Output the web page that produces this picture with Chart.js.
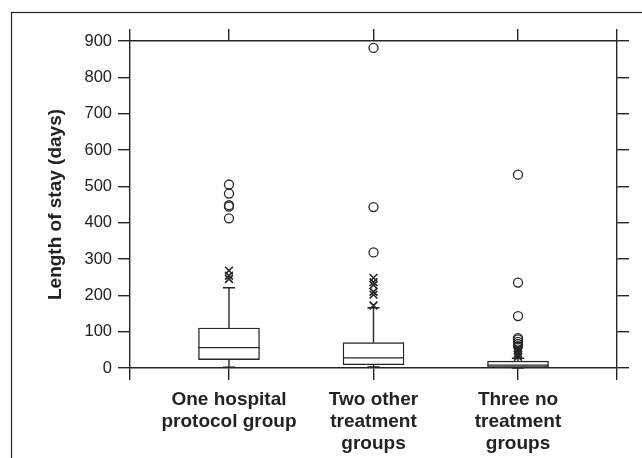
<!DOCTYPE html>
<html>
<head>
<meta charset="utf-8">
<script src="https://cdn.jsdelivr.net/npm/chart.js@4.4.1/dist/chart.umd.min.js"></script>
<style>
  html, body { margin: 0; padding: 0; background: #fff; }
</style>
</head>
<body>
<canvas id="miGrafica" width="642" height="458"></canvas>
<script>
// Datos
const categories = [
    ['One hospital', 'protocol group'],
    ['Two other', 'treatment', 'groups'],
    ['Three no', 'treatment', 'groups']
];
const positions = [1, 2, 3];
const whiskerLow = [2, 3, 0];
const q1 = [23, 9, 2];
const medians = [56, 28, 8];
const q3 = [110, 70, 19];
const whiskerHigh = [221, 166, 27];
// outliers (x) y extremos (o)
const outliersX = [
    [245, 254, 268],
    [172, 202, 210, 228, 236, 248],
    [31, 36, 41, 46, 50, 55]
];
const outliersO = [
    [412, 444, 448, 480, 505],
    [318, 443, 881],
    [60, 66, 72, 79, 82, 143, 235, 532]
];
const yTicks = [0, 100, 200, 300, 400, 500, 600, 700, 800, 900];

const ink = '#262626';
const xMin = 0.315, xMax = 3.685;

function puntos(grupos) {
    const res = [];
    grupos.forEach((vals, i) => vals.forEach(v => res.push({ x: positions[i], y: v })));
    return res;
}

function ticksX(scale) {
    scale.ticks = [xMin].concat(positions, [xMax]).map(v => ({ value: v }));
}

// Marco exterior
const marco = {
    id: 'marco',
    beforeDraw(chart) {
        const ctx = chart.ctx;
        ctx.save();
        ctx.strokeStyle = ink;
        ctx.lineWidth = 1.2;
        ctx.strokeRect(11.5, 12.5, 700, 500);
        ctx.restore();
    }
};

// Mediana, bigotes y topes
const bigotes = {
    id: 'bigotes',
    afterDatasetsDraw(chart) {
        const ctx = chart.ctx;
        const y = chart.scales.y;
        const meta = chart.getDatasetMeta(0);
        ctx.save();
        ctx.strokeStyle = ink;
        ctx.lineWidth = 1.4;
        meta.data.forEach((el, i) => {
            const half = el.width / 2;
            const cap = el.width * 0.1;
            const ym = y.getPixelForValue(medians[i]);
            ctx.beginPath();
            ctx.moveTo(el.x - half, ym);
            ctx.lineTo(el.x + half, ym);
            // bigote superior
            ctx.moveTo(el.x, y.getPixelForValue(q3[i]));
            ctx.lineTo(el.x, y.getPixelForValue(whiskerHigh[i]));
            ctx.moveTo(el.x - cap, y.getPixelForValue(whiskerHigh[i]));
            ctx.lineTo(el.x + cap, y.getPixelForValue(whiskerHigh[i]));
            // bigote inferior
            ctx.moveTo(el.x, y.getPixelForValue(q1[i]));
            ctx.lineTo(el.x, y.getPixelForValue(whiskerLow[i]));
            ctx.moveTo(el.x - cap, y.getPixelForValue(whiskerLow[i]));
            ctx.lineTo(el.x + cap, y.getPixelForValue(whiskerLow[i]));
            ctx.stroke();
        });
        ctx.restore();
    }
};

const gridOpts = {
    display: true,
    offset: false,
    drawOnChartArea: false,
    drawTicks: true,
    tickLength: 12,
    color: ink,
    lineWidth: 1.4
};
const borderOpts = { display: true, color: ink, width: 1.4 };
const tickFont = { family: "'Liberation Sans', Arial, sans-serif", size: 16.5 };
const boldFont = { family: "'Liberation Sans', Arial, sans-serif", size: 19, weight: 'bold', lineHeight: 1.15 };

Chart.defaults.color = '#222';

new Chart(document.getElementById('miGrafica').getContext('2d'), {
    type: 'bar',
    data: {
        datasets: [
            {
                label: 'Caja',
                data: positions.map((p, i) => ({ x: p, y: [q1[i], q3[i]] })),
                backgroundColor: '#fff',
                borderColor: ink,
                borderWidth: 1.4,
                borderSkipped: false,
                barThickness: 61,
                order: 2
            },
            {
                type: 'scatter',
                label: 'Outliers',
                data: puntos(outliersX),
                pointStyle: 'crossRot',
                radius: 5.5,
                borderColor: ink,
                borderWidth: 1.6,
                order: 1
            },
            {
                type: 'scatter',
                label: 'Extremos',
                data: puntos(outliersO),
                pointStyle: 'circle',
                radius: 4.5,
                backgroundColor: 'rgba(0,0,0,0)',
                borderColor: ink,
                borderWidth: 1.3,
                order: 1
            }
        ]
    },
    options: {
        responsive: false,
        animation: false,
        layout: { padding: 0 },
        plugins: { legend: { display: false }, tooltip: { enabled: false } },
        scales: {
            x: {
                type: 'linear',
                position: 'bottom',
                offset: false,
                min: xMin,
                max: xMax,
                afterBuildTicks: ticksX,
                afterFit(scale) { scale.height = 90; },
                grid: gridOpts,
                border: borderOpts,
                ticks: {
                    autoSkip: false,
                    maxRotation: 0,
                    padding: 9,
                    font: boldFont,
                    color: '#222',
                    callback: (value) => {
                        const i = positions.indexOf(value);
                        return i >= 0 ? categories[i] : '';
                    }
                }
            },
            x2: {
                type: 'linear',
                axis: 'x',
                position: 'top',
                offset: false,
                min: xMin,
                max: xMax,
                afterBuildTicks: ticksX,
                afterFit(scale) { scale.height = 41; },
                grid: gridOpts,
                border: borderOpts,
                ticks: { display: false }
            },
            y: {
                type: 'linear',
                position: 'left',
                min: 0,
                max: 900,
                afterBuildTicks(scale) { scale.ticks = yTicks.map(v => ({ value: v })); },
                afterFit(scale) { scale.width = 130; },
                grid: gridOpts,
                border: borderOpts,
                ticks: { padding: 6, font: tickFont, color: '#222' },
                title: {
                    display: true,
                    text: 'Length of stay (days)',
                    font: { family: "'Liberation Sans', Arial, sans-serif", size: 19, weight: 'bold' },
                    color: '#222',
                    padding: { top: 44, bottom: 0 }
                }
            },
            y2: {
                type: 'linear',
                axis: 'y',
                position: 'right',
                min: 0,
                max: 900,
                afterBuildTicks(scale) { scale.ticks = yTicks.map(v => ({ value: v })); },
                afterFit(scale) { scale.width = 25; },
                grid: gridOpts,
                border: borderOpts,
                ticks: { display: false }
            }
        }
    },
    plugins: [marco, bigotes]
});
</script>
</body>
</html>
